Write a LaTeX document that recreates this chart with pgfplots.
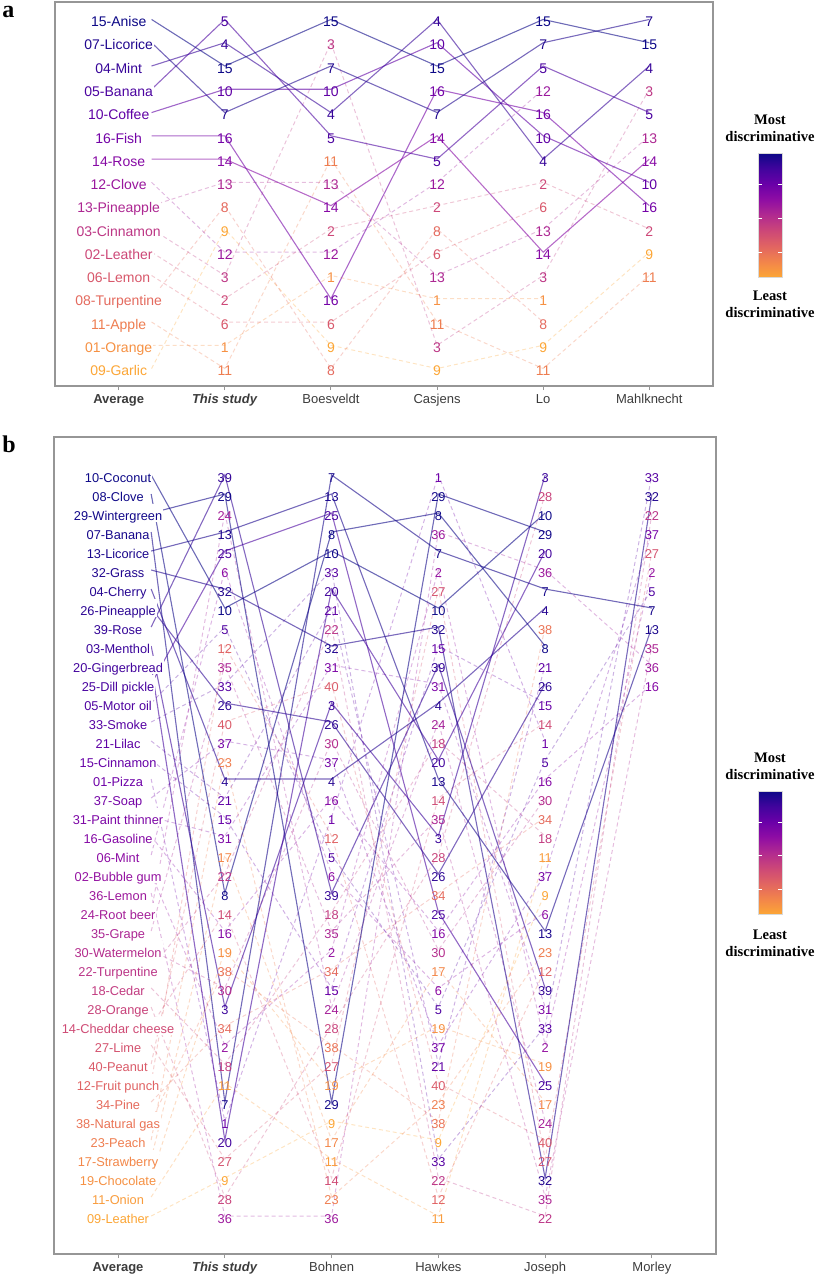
\documentclass[border=0pt]{standalone}
\usepackage{pgfplots}
\pgfplotsset{compat=1.18}
\usepackage{fontspec}
\setmainfont{Liberation Sans}
\newfontfamily\serifbf{Liberation Serif}
\definecolor{p0}{RGB}{13,8,135}
\definecolor{p1}{RGB}{65,4,157}
\definecolor{p2}{RGB}{106,0,168}
\definecolor{p3}{RGB}{143,13,164}
\definecolor{p4}{RGB}{177,42,144}
\definecolor{p5}{RGB}{204,71,120}
\definecolor{p6}{RGB}{225,100,98}
\definecolor{p7}{RGB}{242,132,75}
\definecolor{p8}{RGB}{252,166,54}
\definecolor{labgray}{RGB}{60,60,60}
\definecolor{axgray}{RGB}{150,150,150}
\pgfdeclareverticalshading{plasmash}{100bp}{color(0bp)=(p8); color(25bp)=(p8); color(31.25bp)=(p7); color(37.5bp)=(p6); color(43.75bp)=(p5); color(50bp)=(p4); color(56.25bp)=(p3); color(62.5bp)=(p2); color(68.75bp)=(p1); color(75bp)=(p0); color(100bp)=(p0)}
\newcommand\setcol[4]{%
  \pgfmathsetmacro\mytt{8*pow(max((#1-1)/(#2-1),0.0001),#4)}%
  \pgfmathtruncatemacro\kk{min(floor(\mytt),7)}%
  \pgfmathtruncatemacro\kn{\kk+1}%
  \pgfmathtruncatemacro\ww{round(100*(\mytt-\kk))}%
  \colorlet{#3}{p\kn!\ww!p\kk}%
}
\pgfplotsforeachungrouped \r in {1,...,16}{\edef\tmp{\noexpand\setcol{\r}{16}{ca\r}{1.15}}\tmp}
\pgfplotsforeachungrouped \r in {1,...,40}{\edef\tmp{\noexpand\setcol{\r}{40}{cb\r}{1.5}}\tmp}
\tikzset{sl/.style={line width=0.55pt, draw opacity=0.6},
  dl/.style={line width=0.5pt, draw opacity=0.3, dash pattern=on 2pt off 1.5pt}}
\newcommand\labellist{}
\newcommand\od[6]{%
  \addplot[#2, draw=#1, forget plot] coordinates {(0.31,#3) #6};
  \addplot[draw=none, mark=none, forget plot, nodes near coords={#5},
    every node near coord/.style={anchor=center, inner sep=0pt, text=#1, font=\odfont, text height=0.72em, text depth=0pt}] coordinates {#6};
  \expandafter\def\expandafter\labellist\expandafter{\labellist\lb{#1}{#3}{#4}}%
}
\newcommand\lb[3]{%
  \addplot[draw=none, mark=none, forget plot, nodes near coords={#3},
    every node near coord/.style={anchor=center, fill=white, inner xsep=0.5pt, inner ysep=0.8pt, text=#1, font=\odfont, text height=0.72em, text depth=0pt}] coordinates {(0,#2)};
}
\pgfplotsset{bump/.style={scale only axis, anchor=north west, xmin=-0.6, xmax=5.6, y dir=reverse,
  xtick={0,...,5}, ytick=\empty, clip=false, tick pos=left, tick align=outside, major tick length=2pt,
  tick style={axgray, line width=0.5pt}, axis line style={axgray, line width=0.7pt},
  xticklabel style={font=\fontsize{6.5}{7}\selectfont, text=labgray, yshift=1.5pt}}}
\begin{document}
\begin{tikzpicture}
\useasboundingbox (0,0) rectangle (409pt,-640pt);
\def\odfont{\fontsize{7}{8}\selectfont}
\begin{axis}[bump, at={(27.5pt,-1pt)}, width=329pt, height=192pt, ymin=0.25, ymax=16.75,
  xticklabels={\textbf{Average},\textbf{\textit{This study}},Boesveldt,Casjens,Lo,Mahlknecht}]
\def\labellist{}
\od{ca16}{dl}{16}{09-Garlic}{9}{(1,10)(2,15)(3,16)(4,15)(5,11)}
\od{ca15}{dl}{15}{01-Orange}{1}{(1,15)(2,12)(3,13)(4,13)}
\od{ca14}{dl}{14}{11-Apple}{11}{(1,16)(2,7)(3,14)(4,16)(5,12)}
\od{ca13}{dl}{13}{08-Turpentine}{8}{(1,9)(2,16)(3,10)(4,14)}
\od{ca12}{dl}{12}{06-Lemon}{6}{(1,14)(2,14)(3,11)(4,9)}
\od{ca11}{dl}{11}{02-Leather}{2}{(1,13)(2,10)(3,9)(4,8)(5,10)}
\od{ca10}{dl}{10}{03-Cinnamon}{3}{(1,12)(2,2)(3,15)(4,12)(5,4)}
\od{ca9}{dl}{9}{13-Pineapple}{13}{(1,8)(2,8)(3,12)(4,10)(5,6)}
\od{ca8}{dl}{8}{12-Clove}{12}{(1,11)(2,11)(3,8)(4,4)}
\od{ca7}{sl}{7}{14-Rose}{14}{(1,7)(2,9)(3,6)(4,11)(5,7)}
\od{ca6}{sl}{6}{16-Fish}{16}{(1,6)(2,13)(3,4)(4,5)(5,9)}
\od{ca5}{sl}{5}{10-Coffee}{10}{(1,4)(2,4)(3,2)(4,6)(5,8)}
\od{ca4}{sl}{4}{05-Banana}{5}{(1,1)(2,6)(3,7)(4,3)(5,5)}
\od{ca3}{sl}{3}{04-Mint}{4}{(1,2)(2,5)(3,1)(4,7)(5,3)}
\od{ca2}{sl}{2}{07-Licorice}{7}{(1,5)(2,3)(3,5)(4,2)(5,1)}
\od{ca1}{sl}{1}{15-Anise}{15}{(1,3)(2,1)(3,3)(4,1)(5,2)}
\labellist
\end{axis}
\def\odfont{\fontsize{6.4}{7}\selectfont}
\begin{axis}[bump, at={(27pt,-218.5pt)}, width=331pt, height=408.5pt, ymin=-1, ymax=42,
  xticklabels={\textbf{Average},\textbf{\textit{This study}},Bohnen,Hawkes,Joseph,Morley}]
\def\labellist{}
\od{cb40}{dl}{40}{09-Leather}{9}{(1,38)(2,35)(3,36)(4,23)}
\od{cb39}{dl}{39}{11-Onion}{11}{(1,33)(2,37)(3,40)(4,21)}
\od{cb38}{dl}{38}{19-Chocolate}{19}{(1,26)(2,33)(3,30)(4,32)}
\od{cb37}{dl}{37}{17-Strawberry}{17}{(1,21)(2,36)(3,27)(4,34)}
\od{cb36}{dl}{36}{23-Peach}{23}{(1,16)(2,39)(3,34)(4,26)}
\od{cb35}{dl}{35}{38-Natural gas}{38}{(1,27)(2,31)(3,35)(4,9)}
\od{cb34}{dl}{34}{34-Pine}{34}{(1,30)(2,27)(3,23)(4,19)}
\od{cb33}{dl}{33}{12-Fruit punch}{12}{(1,10)(2,20)(3,39)(4,27)}
\od{cb32}{dl}{32}{40-Peanut}{40}{(1,14)(2,12)(3,33)(4,36)}
\od{cb31}{dl}{31}{27-Lime}{27}{(1,37)(2,32)(3,7)(4,37)(5,5)}
\od{cb30}{dl}{30}{14-Cheddar cheese}{14}{(1,24)(2,38)(3,18)(4,14)}
\od{cb29}{dl}{29}{28-Orange}{28}{(1,39)(2,30)(3,21)(4,2)}
\od{cb28}{dl}{28}{18-Cedar}{18}{(1,32)(2,24)(3,15)(4,20)}
\od{cb27}{dl}{27}{22-Turpentine}{22}{(1,22)(2,9)(3,38)(4,40)(5,3)}
\od{cb26}{dl}{26}{30-Watermelon}{30}{(1,28)(2,15)(3,26)(4,18)}
\od{cb25}{dl}{25}{35-Grape}{35}{(1,11)(2,25)(3,19)(4,39)(5,10)}
\od{cb24}{dl}{24}{24-Root beer}{24}{(1,3)(2,29)(3,14)(4,35)}
\od{cb23}{dl}{23}{36-Lemon}{36}{(1,40)(2,40)(3,4)(4,6)(5,11)}
\od{cb22}{dl}{22}{02-Bubble gum}{2}{(1,31)(2,26)(3,6)(4,31)(5,6)}
\od{cb21}{dl}{21}{06-Mint}{6}{(1,6)(2,22)(3,28)(4,24)}
\od{cb20}{dl}{20}{16-Gasoline}{16}{(1,25)(2,18)(3,25)(4,17)(5,12)}
\od{cb19}{dl}{19}{31-Paint thinner}{31}{(1,20)(2,11)(3,12)(4,29)}
\od{cb18}{dl}{18}{37-Soap}{37}{(1,15)(2,16)(3,31)(4,22)(5,4)}
\od{cb17}{dl}{17}{01-Pizza}{1}{(1,35)(2,19)(3,1)(4,15)}
\od{cb16}{dl}{16}{15-Cinnamon}{15}{(1,19)(2,28)(3,10)(4,13)}
\od{cb15}{dl}{15}{21-Lilac}{21}{(1,18)(2,8)(3,32)(4,11)}
\od{cb14}{dl}{14}{33-Smoke}{33}{(1,12)(2,6)(3,37)(4,30)(5,1)}
\od{cb13}{dl}{13}{05-Motor oil}{5}{(1,9)(2,21)(3,29)(4,16)(5,7)}
\od{cb12}{sl}{12}{25-Dill pickle}{25}{(1,5)(2,3)(3,24)(4,33)}
\od{cb11}{sl}{11}{20-Gingerbread}{20}{(1,36)(2,7)(3,16)(4,5)}
\od{cb10}{sl}{10}{03-Menthol}{3}{(1,29)(2,13)(3,20)(4,1)}
\od{cb9}{sl}{9}{39-Rose}{39}{(1,1)(2,23)(3,11)(4,28)}
\od{cb8}{sl}{8}{26-Pineapple}{26}{(1,13)(2,14)(3,22)(4,12)}
\od{cb7}{sl}{7}{04-Cherry}{4}{(1,17)(2,17)(3,13)(4,8)}
\od{cb6}{sl}{6}{32-Grass}{32}{(1,7)(2,10)(3,9)(4,38)(5,2)}
\od{cb5}{sl}{5}{13-Licorice}{13}{(1,4)(2,2)(3,17)(4,25)(5,9)}
\od{cb4}{sl}{4}{07-Banana}{7}{(1,34)(2,1)(3,5)(4,7)(5,8)}
\od{cb3}{sl}{3}{29-Wintergreen}{29}{(1,2)(2,34)(3,2)(4,4)}
\od{cb2}{sl}{2}{08-Clove}{8}{(1,23)(2,4)(3,3)(4,10)}
\od{cb1}{sl}{1}{10-Coconut}{10}{(1,8)(2,5)(3,8)(4,3)}
\labellist
\end{axis}
% panel letters
\node[font=\serifbf\bfseries\fontsize{12}{12}\selectfont, anchor=base west, inner sep=0pt] at (1pt,-8.5pt) {a};
\node[font=\serifbf\bfseries\fontsize{12}{12}\selectfont, anchor=base west, inner sep=0pt] at (1pt,-226pt) {b};
% legend a
\node[font=\serifbf\bfseries\fontsize{7.3}{8.5}\selectfont, align=center] at (385pt,-64.25pt) {Most\\discriminative};
\shade[shading=plasmash] (379pt,-76.5pt) rectangle (391pt,-138.5pt);
\draw[gray!30, line width=0.3pt] (379pt,-76.5pt) rectangle (391pt,-138.5pt);
\foreach \yy in {-92,-109,-126}{\draw[white, line width=0.4pt] (379pt,\yy pt) -- ++(2pt,0pt) (391pt,\yy pt) -- ++(-2pt,0pt);}
\node[font=\serifbf\bfseries\fontsize{7.3}{8.5}\selectfont, align=center] at (385pt,-152.25pt) {Least\\discriminative};
% legend b
\node[font=\serifbf\bfseries\fontsize{7.3}{8.5}\selectfont, align=center] at (385pt,-383.25pt) {Most\\discriminative};
\shade[shading=plasmash] (379pt,-395.5pt) rectangle (391pt,-457pt);
\draw[gray!30, line width=0.3pt] (379pt,-395.5pt) rectangle (391pt,-457pt);
\foreach \yy in {-411,-427.5,-444.5}{\draw[white, line width=0.4pt] (379pt,\yy pt) -- ++(2pt,0pt) (391pt,\yy pt) -- ++(-2pt,0pt);}
\node[font=\serifbf\bfseries\fontsize{7.3}{8.5}\selectfont, align=center] at (385pt,-471.75pt) {Least\\discriminative};
\end{tikzpicture}
\end{document}
